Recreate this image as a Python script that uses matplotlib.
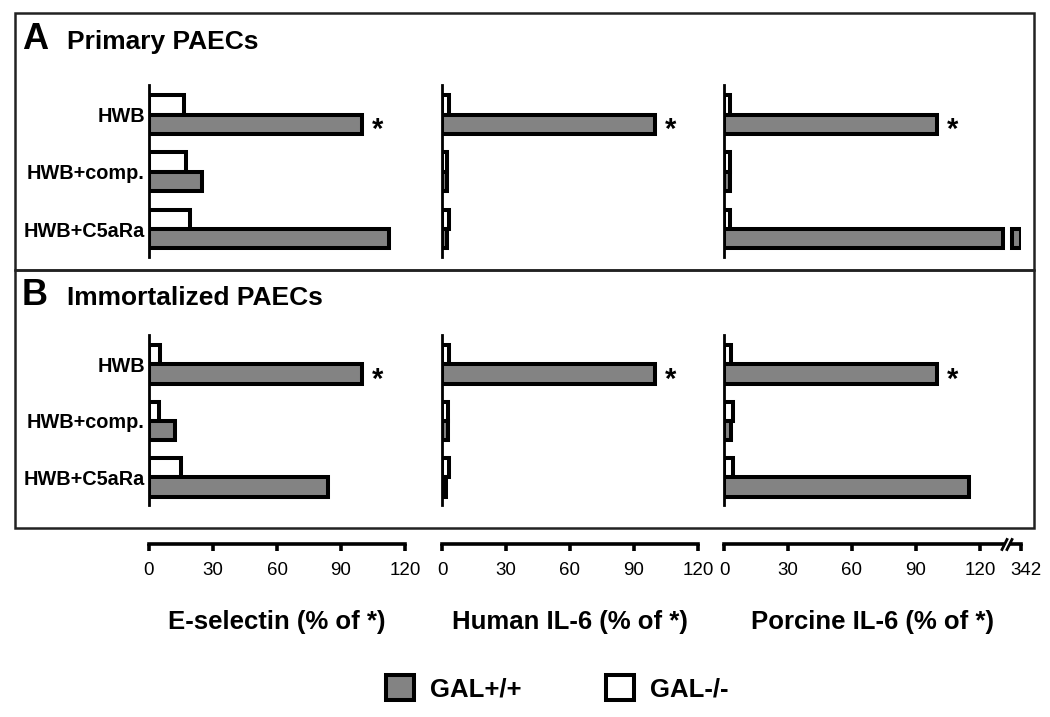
import numpy as np
import matplotlib
matplotlib.use('Agg')
import matplotlib.pyplot as plt
from matplotlib.patches import Rectangle
import matplotlib.transforms as mtransforms

plt.rcParams['font.family'] = ['Liberation Sans', 'DejaVu Sans']

# ---------------- data ----------------
categories = ['HWB', 'HWB+comp.', 'HWB+C5aRa']
series_names = ['GAL+/+', 'GAL-/-']
panel_letters = ['A', 'B']
panel_titles = ['Primary PAECs', 'Immortalized PAECs']
measures = ['E-selectin (% of *)', 'Human IL-6 (% of *)', 'Porcine IL-6 (% of *)']

# Panel A (primary PAECs)
a_esel_pos = [100, 25, 112.5]
a_esel_neg = [16.5, 17.5, 19]
a_hil6_pos = [100, 2.2, 2.5]
a_hil6_neg = [3.4, 2.2, 3.4]
a_pil6_pos = [100, 3, 342]
a_pil6_neg = [3, 3, 2.8]
# Panel B (immortalized PAECs)
b_esel_pos = [100, 12, 84]
b_esel_neg = [5, 4.5, 15]
b_hil6_pos = [100, 2.9, 2]
b_hil6_neg = [3.3, 3, 3.3]
b_pil6_pos = [100, 3.5, 115]
b_pil6_neg = [3.5, 4, 4]

star_marks = [True, False, False]
xticks_linear = [0, 30, 60, 90, 120]
xticks_porcine = [0, 30, 60, 90, 120, 342]

# ---------------- style ----------------
GRAY = '#838383'
EDGE_LW = 2.9
BAR_H = 0.34
W, H = 1050, 717

# broken scale for porcine IL-6
BRK = 130.0
POS_MAX = 139.3
K = (POS_MAX - BRK) / (342 - BRK)


def fwd(v):
    v = np.asarray(v, float)
    return np.where(v <= BRK, v, BRK + (v - BRK) * K)


def inv(p):
    p = np.asarray(p, float)
    return np.where(p <= BRK, p, BRK + (p - BRK) / K)


GAP_LO = float(inv(131.0))
GAP_HI = float(inv(134.8))
SLASH_POS = [float(inv(131.4)), float(inv(133.7))]

fig = plt.figure(figsize=(W / 100, H / 100), dpi=100)


def rect(x0, x1, ytop, ybot):
    return [x0 / W, 1 - ybot / H, (x1 - x0) / W, (ybot - ytop) / H]


col_x = [(149, 405), (442, 698), (724, 724 + 139.3 * 256 / 120)]
row_y = [(85, 257), (335, 505)]

panel_data = [
    [(a_esel_pos, a_esel_neg), (a_hil6_pos, a_hil6_neg), (a_pil6_pos, a_pil6_neg)],
    [(b_esel_pos, b_esel_neg), (b_hil6_pos, b_hil6_neg), (b_pil6_pos, b_pil6_neg)],
]

legend_handles = None
y = np.arange(len(categories))
OUTWARD = 28

for r in range(2):
    for c in range(3):
        ax = fig.add_axes(rect(col_x[c][0], col_x[c][1], row_y[r][0], row_y[r][1]))
        pos_vals, neg_vals = panel_data[r][c]
        if c == 2:
            ax.set_xscale('function', functions=(fwd, inv))
        ax.set_xlim(0, 342 if c == 2 else 120)
        ax.set_ylim(2.49, -0.52)

        # GAL-/- (white) above, GAL+/+ (gray) below
        hw = ax.barh(y - BAR_H / 2, neg_vals, height=BAR_H, color='white',
                     edgecolor='black', linewidth=EDGE_LW, zorder=3)
        pos_arr = np.asarray(pos_vals, float)
        if c == 2:
            short = np.minimum(pos_arr, GAP_LO)
            hg = ax.barh(y + BAR_H / 2, short, height=BAR_H, color=GRAY,
                         edgecolor='black', linewidth=EDGE_LW, zorder=3)
            big = pos_arr > GAP_LO
            if big.any():
                ax.barh((y + BAR_H / 2)[big], pos_arr[big] - GAP_HI, left=GAP_HI,
                        height=BAR_H, color=GRAY, edgecolor='black',
                        linewidth=EDGE_LW, zorder=3)
        else:
            hg = ax.barh(y + BAR_H / 2, pos_arr, height=BAR_H, color=GRAY,
                         edgecolor='black', linewidth=EDGE_LW, zorder=3)
        if legend_handles is None:
            legend_handles = [hg, hw]

        for i, flag in enumerate(star_marks):
            if flag:
                ax.annotate('*', xy=(pos_arr[i], y[i] + BAR_H / 2), xytext=(7, -4),
                            textcoords='offset points', ha='left', va='center',
                            fontsize=21, fontweight='bold')

        for s in ['top', 'right']:
            ax.spines[s].set_visible(False)
        ax.spines['left'].set_linewidth(2.0)
        ax.spines['left'].set_zorder(4)
        ax.tick_params(axis='y', length=0, pad=3)
        if c == 0:
            ax.set_yticks(y)
            ax.set_yticklabels(categories, fontsize=14.3, fontweight='bold')
        else:
            ax.set_yticks([])

        if r == 0:
            ax.spines['bottom'].set_visible(False)
            ax.set_xticks([])
        else:
            ax.spines['bottom'].set_position(('outward', OUTWARD))
            ax.spines['bottom'].set_linewidth(2.6)
            ticks = xticks_porcine if c == 2 else xticks_linear
            ax.set_xticks(ticks)
            ax.set_xticklabels([str(t) for t in ticks], fontsize=13.5)
            ax.tick_params(axis='x', direction='out', length=5, width=2.6, pad=8)
            ax.set_xlabel(measures[c], fontsize=18.5, fontweight='bold', labelpad=22)
            if c == 2:
                last = ax.get_xticklabels()[-1]
                last.set_transform(last.get_transform() +
                                   mtransforms.ScaledTranslation(5 / 100, 0, fig.dpi_scale_trans))
                trans = mtransforms.offset_copy(ax.get_xaxis_transform(), fig=fig,
                                                y=-OUTWARD, units='points')
                ax.plot(SLASH_POS, [0, 0], color='white', lw=4, transform=trans,
                        clip_on=False, zorder=6, solid_capstyle='butt')
                ax.plot(SLASH_POS, [0, 0], linestyle='none', marker=[(-0.5, -1), (0.5, 1)],
                        markersize=9, markeredgewidth=2, color='black', transform=trans,
                        clip_on=False, zorder=7)

# panel boxes
for (ytop, ybot) in [(13, 270), (270, 528)]:
    fig.add_artist(Rectangle((15 / W, 1 - ybot / H), (1034 - 15) / W, (ybot - ytop) / H,
                             transform=fig.transFigure, fill=False, lw=1.8,
                             edgecolor='#222222'))

# panel titles
for (letter, title, base) in zip(panel_letters, panel_titles, [49, 305]):
    fig.text(22 / W, 1 - base / H, letter, fontsize=26, fontweight='bold', va='baseline')
    fig.text(67 / W, 1 - base / H, title, fontsize=19, fontweight='bold', va='baseline')

fig.legend(handles=legend_handles, labels=series_names, loc='center',
           bbox_to_anchor=(557 / W, 1 - 688 / H), ncol=2, frameon=False,
           prop=dict(weight='bold', size=18.5), handlelength=1.1, handleheight=1.1,
           handletextpad=0.6, columnspacing=3.3)

fig.savefig('out.png', dpi=100)
